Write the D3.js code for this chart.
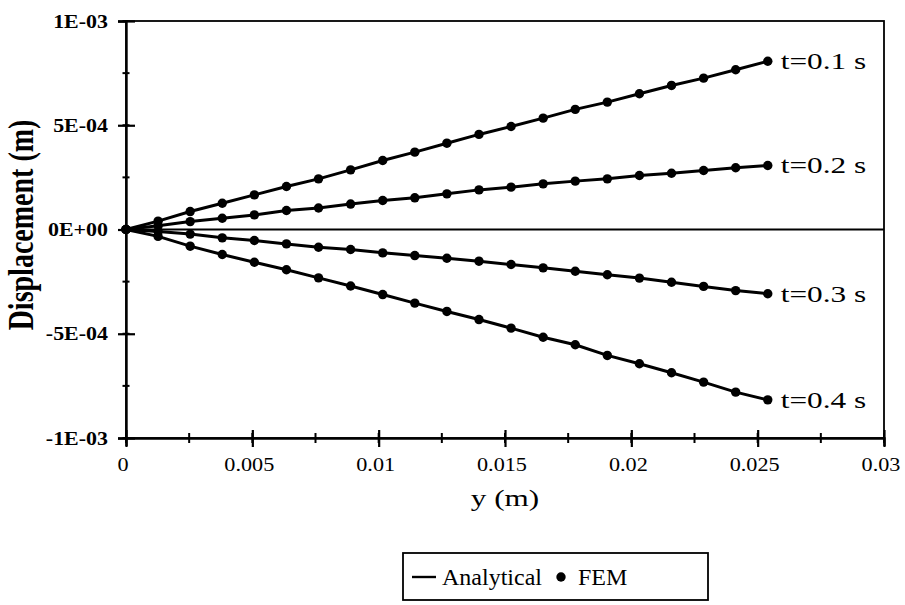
<!DOCTYPE html>
<html>
<head>
<meta charset="utf-8">
<script src="https://cdn.jsdelivr.net/npm/d3@7"></script>
<style>
  body { margin: 0; background: #fff; }
  svg text { font-family: "Liberation Serif", "Times New Roman", serif; fill: #000; }
</style>
</head>
<body>
<svg id="chart" width="905" height="605"></svg>
<script>
// y positions (m): 21 nodes, 0 .. 0.0254
var yPos = [0, 0.00127, 0.00254, 0.00381, 0.00508, 0.00635, 0.00762, 0.00889, 0.01016, 0.01143,
  0.0127, 0.01397, 0.01524, 0.01651, 0.01778, 0.01905, 0.02032, 0.02159, 0.02286, 0.02413, 0.0254];

var seriesNames = ['t=0.1 s', 't=0.2 s', 't=0.3 s', 't=0.4 s'];

// displacement (m)
var disp01 = [0, 0.40e-4, 0.86e-4, 1.26e-4, 1.66e-4, 2.06e-4, 2.43e-4, 2.86e-4, 3.31e-4, 3.71e-4,
  4.14e-4, 4.56e-4, 4.94e-4, 5.34e-4, 5.76e-4, 6.11e-4, 6.51e-4, 6.91e-4, 7.26e-4, 7.66e-4, 8.07e-4];
var disp02 = [0, 0.18e-4, 0.38e-4, 0.54e-4, 0.70e-4, 0.91e-4, 1.03e-4, 1.22e-4, 1.39e-4, 1.52e-4,
  1.71e-4, 1.90e-4, 2.03e-4, 2.19e-4, 2.32e-4, 2.43e-4, 2.59e-4, 2.70e-4, 2.83e-4, 2.96e-4, 3.07e-4];
var disp03 = [0, -0.10e-4, -0.22e-4, -0.40e-4, -0.53e-4, -0.69e-4, -0.85e-4, -0.96e-4, -1.12e-4, -1.25e-4,
  -1.38e-4, -1.52e-4, -1.68e-4, -1.84e-4, -2.00e-4, -2.17e-4, -2.33e-4, -2.53e-4, -2.73e-4, -2.93e-4, -3.08e-4];
var disp04 = [0, -0.33e-4, -0.80e-4, -1.20e-4, -1.57e-4, -1.93e-4, -2.32e-4, -2.71e-4, -3.12e-4, -3.53e-4,
  -3.93e-4, -4.32e-4, -4.73e-4, -5.17e-4, -5.53e-4, -6.04e-4, -6.44e-4, -6.87e-4, -7.32e-4, -7.80e-4, -8.17e-4];

var xTicks = [0, 0.005, 0.01, 0.015, 0.02, 0.025, 0.03];
var xTickLabels = ['0', '0.005', '0.01', '0.015', '0.02', '0.025', '0.03'];
var yTicks = [-1e-3, -5e-4, 0, 5e-4, 1e-3];
var yTickLabels = ['-1E-03', '-5E-04', '0E+00', '5E-04', '1E-03'];

var svg = d3.select('#chart');
var plotL = 126, plotR = 884, plotT = 21, plotB = 438;

var x = d3.scaleLinear().domain([0, 0.03]).range([plotL, plotR]);
var y = d3.scaleLinear().domain([-1e-3, 1e-3]).range([plotB, plotT]);

var allSeries = [disp01, disp02, disp03, disp04];

// frame
svg.append('rect').attr('x', plotL).attr('y', plotT).attr('width', plotR - plotL).attr('height', plotB - plotT)
  .attr('fill', 'none').attr('stroke', '#000').attr('stroke-width', 1.8);

// zero line
svg.append('line').attr('x1', plotL).attr('x2', plotR).attr('y1', y(0)).attr('y2', y(0))
  .attr('stroke', '#000').attr('stroke-width', 2.2);

// minor ticks (crossing the axis)
var yMinor = d3.range(-4, 5).map(function(i) { return i * 2.5e-4; });
var xMinor = d3.range(0, 13).map(function(i) { return i * 0.0025; });
svg.selectAll('.yminor').data(yMinor).enter().append('line')
  .attr('x1', plotL - 3.5).attr('x2', plotL + 3.5).attr('y1', function(d) { return y(d); }).attr('y2', function(d) { return y(d); })
  .attr('stroke', '#000').attr('stroke-width', 2);
svg.selectAll('.xminor').data(xMinor).enter().append('line')
  .attr('x1', function(d) { return x(d); }).attr('x2', function(d) { return x(d); })
  .attr('y1', plotB - 5).attr('y2', plotB + 5)
  .attr('stroke', '#000').attr('stroke-width', 2);

// y axis
var yAxis = d3.axisLeft(y).tickValues(yTicks).tickSize(8)
  .tickFormat(function(d, i) { return yTickLabels[i]; });
var gy = svg.append('g').attr('transform', 'translate(' + plotL + ',0)').call(yAxis);
gy.select('.domain').attr('stroke-width', 2.4);
gy.selectAll('.tick line').attr('x2', -8).attr('x1', 9).attr('stroke-width', 2.2);
gy.selectAll('.tick text')
  .attr('x', -18 / 1.22).attr('dy', '0.34em')
  .attr('transform', 'scale(1.22,1)')
  .style('font-size', '18px').style('font-weight', 'bold').style('font-family', '"Liberation Serif", serif');

// x axis
var xAxis = d3.axisBottom(x).tickValues(xTicks).tickSize(8)
  .tickFormat(function(d, i) { return xTickLabels[i]; });
var gx = svg.append('g').attr('transform', 'translate(0,' + plotB + ')').call(xAxis);
gx.select('.domain').attr('stroke-width', 2.4);
gx.selectAll('.tick line').attr('y1', -8).attr('y2', 9).attr('stroke-width', 2.2);
gx.selectAll('.tick text')
  .attr('y', 20).attr('dy', '0.71em')
  .attr('transform', 'scale(1.17,1)')
  .attr('x', -3)
  .style('font-size', '19px').style('font-family', '"Liberation Serif", serif');

// lines
var line = d3.line()
  .x(function(d, i) { return x(yPos[i]); })
  .y(function(d) { return y(d); });

svg.selectAll('.series').data(allSeries).enter().append('path')
  .attr('class', 'series')
  .attr('d', line)
  .attr('fill', 'none').attr('stroke', '#000').attr('stroke-width', 3);

// FEM points
allSeries.forEach(function(s) {
  svg.append('g').selectAll('circle').data(s).enter().append('circle')
    .attr('cx', function(d, i) { return x(yPos[i]); })
    .attr('cy', function(d) { return y(d); })
    .attr('r', 4.7).attr('fill', '#000');
});

// series labels at the end of each curve
svg.selectAll('.lab').data(allSeries).enter().append('g')
  .attr('transform', function(d) { return 'translate(' + (x(yPos[yPos.length - 1]) + 13) + ',' + (y(d[d.length - 1]) + 8) + ')'; })
  .append('text')
  .attr('transform', 'scale(1.36,1)')
  .style('font-size', '23px')
  .text(function(d, i) { return seriesNames[i]; });

// axis titles
svg.append('text')
  .attr('transform', 'translate(33,225) rotate(-90) scale(1,1.3)')
  .attr('text-anchor', 'middle')
  .style('font-size', '28px').style('font-weight', 'bold')
  .text('Displacement (m)');

svg.append('text')
  .attr('transform', 'translate(505,506) scale(1.3,1)')
  .attr('text-anchor', 'middle')
  .style('font-size', '24px')
  .text('y (m)');

// legend
var lg = svg.append('g').attr('transform', 'translate(403,553)');
lg.append('rect').attr('width', 305).attr('height', 47)
  .attr('fill', '#fff').attr('stroke', '#000').attr('stroke-width', 1.8);
lg.append('line').attr('x1', 9).attr('x2', 33).attr('y1', 24).attr('y2', 24)
  .attr('stroke', '#000').attr('stroke-width', 2.4);
lg.append('text').attr('transform', 'translate(39,32)')
  .style('font-size', '24px').text('Analytical');
lg.append('circle').attr('cx', 158).attr('cy', 24).attr('r', 4.7).attr('fill', '#000');
lg.append('text').attr('transform', 'translate(175,32)')
  .style('font-size', '24px').text('FEM');
</script>
</body>
</html>
